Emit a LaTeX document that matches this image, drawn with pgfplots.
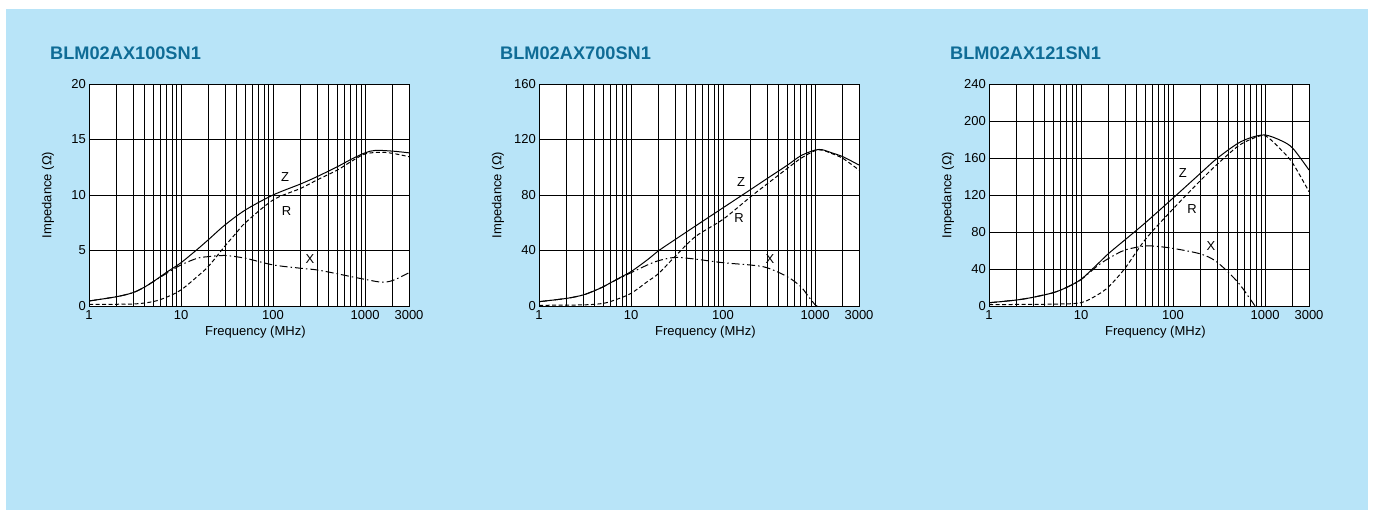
\documentclass[border=0pt]{standalone}
\usepackage{fontspec}
\setmainfont{Liberation Sans}
\usepackage{pgfplots}
\pgfplotsset{compat=1.18}
\definecolor{bgblue}{HTML}{B8E4F8}
\definecolor{ttl}{HTML}{0F6C96}

\pgfplotsset{
  impaxis/.style={
    width=320pt, height=222pt, scale only axis,
    xmin=1, xmax=3000, ymin=0,
    xtick={1,10,100,1000,3000}, xticklabels={1,10,100,1000,3000},
    minor xtick={2,3,4,5,6,7,8,9,20,30,40,50,60,70,80,90,200,300,400,500,600,700,800,900,2000},
    grid=both,
    major grid style={black, line width=0.75pt},
    minor grid style={black, line width=0.75pt},
    axis line style={black, line width=0.8pt},
    axis background/.style={fill=white},
    major tick length=0pt, minor tick length=0pt,
    tick label style={font=\fontsize{13}{15}\selectfont, inner sep=0pt},
    xticklabel style={anchor=north, yshift=-4pt},
    yticklabel style={anchor=east, xshift=-3pt},
    xlabel={Frequency (MHz)}, ylabel={Impedance (Ω)},
    label style={font=\fontsize{13}{15}\selectfont, inner sep=0pt},
    xlabel style={at={(axis description cs:0.52,-0.117)}, anchor=center},
    ylabel style={at={(axis description cs:-0.128,0.5)}, anchor=center},
  },
}
\tikzset{
  zline/.style={black, line width=1pt},
  rline/.style={black, line width=1pt, dash pattern=on 4pt off 2.5pt},
  xline/.style={black, line width=1pt, dash pattern=on 8pt off 3pt on 1.5pt off 3pt},
  curvelbl/.style={font=\fontsize{13}{15}\selectfont, inner sep=0pt},
  ttlnode/.style={anchor=base west, inner sep=0pt, text=ttl, font=\fontsize{18.2}{20}\selectfont\bfseries},
}

\begin{document}
\begin{tikzpicture}
\fill[white] (0pt,0pt) rectangle (1373pt,510pt);
\fill[bgblue] (6pt,0pt) rectangle (1368pt,501pt);

% BLM02AX100SN1
\begin{semilogxaxis}[impaxis, at={(89pt,204pt)}, anchor=south west,
  ymax=20, ytick={0,5,10,15,20}, yticklabels={0,5,10,15,20}]
\addplot[zline, smooth] coordinates {(1,0.45) (2,0.84) (3,1.2) (4,1.7) (5,2.2) (7,3.05) (10,3.9) (15,5.1) (20,6.0) (30,7.3) (50,8.65) (100,10.0) (200,11.0) (300,11.65) (500,12.55) (700,13.2) (1000,13.8) (1300,14.02) (2000,13.95) (3000,13.8)};
\addplot[rline, smooth] coordinates {(1,0.15) (3,0.18) (5,0.4) (7,0.8) (10,1.45) (15,2.65) (20,3.6) (30,5.4) (40,6.6) (50,7.5) (100,9.55) (200,10.6) (300,11.35) (500,12.25) (700,13.0) (1000,13.7) (1500,13.85) (2000,13.75) (3000,13.45)};
\addplot[xline, smooth] coordinates {(1,0.45) (2,0.84) (3,1.2) (4,1.7) (5,2.2) (7,2.95) (10,3.7) (15,4.3) (20,4.45) (30,4.55) (50,4.3) (100,3.7) (200,3.4) (300,3.25) (500,2.9) (700,2.65) (1000,2.4) (1500,2.15) (2000,2.3) (3000,3.0)};
\node[curvelbl] at (axis cs:135,11.6) {Z};
\node[curvelbl] at (axis cs:140,8.56) {R};
\node[curvelbl] at (axis cs:252,4.23) {X};
\end{semilogxaxis}

% BLM02AX700SN1
\begin{semilogxaxis}[impaxis, at={(539pt,204pt)}, anchor=south west,
  ymax=160, ytick={0,40,80,120,160}, yticklabels={0,40,80,120,160}]
\addplot[zline, smooth] coordinates {(1,3.1) (2,5.5) (3,7.9) (4,11) (5,13.9) (7,19.2) (10,24.8) (15,33.2) (20,39.9) (30,47.8) (50,57.6) (100,70.8) (200,84) (300,91.8) (500,101.5) (700,108.3) (1000,112.4) (1200,112.6) (1500,110.5) (2000,107.6) (3000,101.6)};
\addplot[rline, smooth] coordinates {(1,0.5) (3,0.8) (5,1.9) (7,4.8) (10,9.1) (15,17.5) (20,23.5) (30,35.6) (50,50) (100,62.5) (200,78.8) (300,87.9) (500,99.2) (700,106.4) (1000,112) (1200,112.3) (1500,110) (2000,106.4) (3000,98)};
\addplot[xline, smooth] coordinates {(1,3.1) (2,5.5) (3,7.9) (4,11) (5,13.9) (7,19) (10,24) (15,29.5) (20,32.7) (30,35) (50,33.8) (100,31.2) (200,29.5) (300,27.6) (500,21.1) (700,13.9) (850,6.7) (1000,0.9) (1057,0)};
\node[curvelbl] at (axis cs:157,89.4) {Z};
\node[curvelbl] at (axis cs:149,63.4) {R};
\node[curvelbl] at (axis cs:324,33.9) {X};
\end{semilogxaxis}

% BLM02AX121SN1
\begin{semilogxaxis}[impaxis, at={(989pt,204pt)}, anchor=south west,
  ymax=240, ytick={0,40,80,120,160,200,240}, yticklabels={0,40,80,120,160,200,240}]
\addplot[zline, smooth] coordinates {(1,3.5) (2,6.5) (3,9.4) (5,14.4) (7,20.2) (10,28.8) (15,45) (20,56.9) (30,71.5) (50,90) (100,116.7) (200,143.8) (300,159.5) (500,175.5) (700,182) (1000,184.9) (1500,178.7) (2000,170.5) (3000,147)};
\addplot[rline, smooth] coordinates {(1,1.5) (5,2) (10,3.6) (15,11.9) (20,20.9) (30,40.7) (50,72) (100,105) (200,136) (300,153) (500,172.3) (700,180.2) (1000,184) (1500,168.6) (2000,154.2) (3000,123.6)};
\addplot[xline, smooth] coordinates {(1,3.5) (2,6.5) (3,9.4) (5,14.4) (7,20.2) (10,28.5) (15,43.2) (20,51.5) (30,60.5) (50,64.9) (70,64.2) (100,62.3) (200,56.2) (300,47.5) (500,26.3) (700,6.5) (777,0)};
\node[curvelbl] at (axis cs:128,143.8) {Z};
\node[curvelbl] at (axis cs:161,104.9) {R};
\node[curvelbl] at (axis cs:258,64.9) {X};
\end{semilogxaxis}

\node[ttlnode] at (50pt,450pt) {BLM02AX100SN1};
\node[ttlnode] at (500pt,450pt) {BLM02AX700SN1};
\node[ttlnode] at (950pt,450pt) {BLM02AX121SN1};
\end{tikzpicture}
\end{document}
